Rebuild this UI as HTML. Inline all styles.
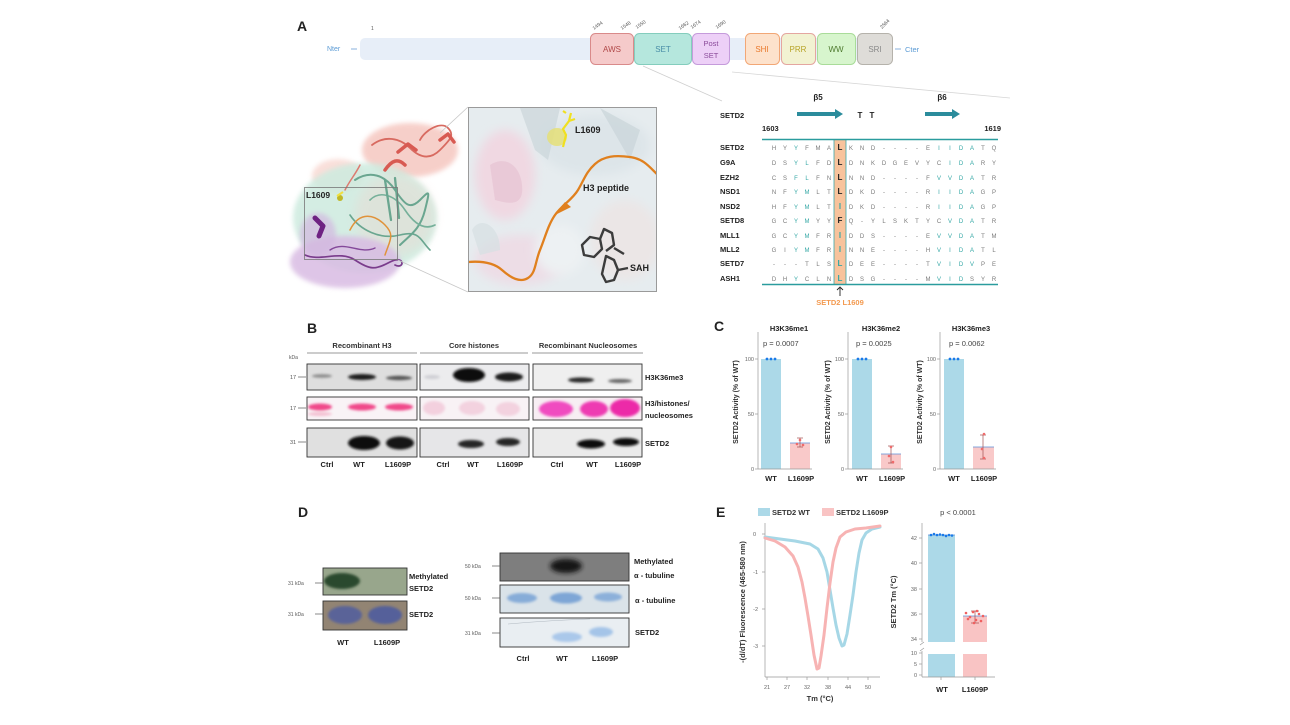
<!DOCTYPE html>
<html><head><meta charset="utf-8">
<style>
html,body{margin:0;padding:0;background:#fff;}
svg{display:block;}
text{font-family:"Liberation Sans",sans-serif;}
</style></head>
<body>
<svg width="1290" height="725" viewBox="0 0 1290 725" xmlns="http://www.w3.org/2000/svg">
<defs>
<filter id="b1" x="-50%" y="-50%" width="200%" height="200%"><feGaussianBlur stdDeviation="1.2"/></filter>
<filter id="b2" x="-50%" y="-50%" width="200%" height="200%"><feGaussianBlur stdDeviation="2.5"/></filter>
<filter id="b4" x="-50%" y="-50%" width="200%" height="200%"><feGaussianBlur stdDeviation="5"/></filter>
<clipPath id="inset"><rect x="468" y="107" width="189" height="185"/></clipPath>
</defs>
<rect width="1290" height="725" fill="#fff"/>

<!-- ================= PANEL A ================= -->
<text x="297" y="31" font-size="14" font-weight="bold" fill="#222">A</text>
<!-- domain bar -->
<rect x="360" y="38" width="510" height="22" rx="5" fill="#e7eef8"/>
<text x="327" y="51" font-size="7" fill="#5b9bd5">Nter</text>
<line x1="351" y1="49" x2="357" y2="49" stroke="#8ab0dc" stroke-width="1"/>
<text x="905" y="52" font-size="7.5" fill="#5b9bd5">Cter</text>
<line x1="895" y1="49" x2="901" y2="49" stroke="#8ab0dc" stroke-width="1"/>

<rect x="590.5" y="33.5" width="43" height="31" rx="5" fill="#f5caca" stroke="#d98a8a"/>
<rect x="634.5" y="33.5" width="57" height="31" rx="5" fill="#b5e7dd" stroke="#84cdbd"/>
<rect x="692.5" y="33.5" width="37" height="31" rx="5" fill="#edd0f7" stroke="#c59bdb"/>
<rect x="745.5" y="33.5" width="34" height="31" rx="5" fill="#fde2cc" stroke="#f2a776"/>
<rect x="781.5" y="33.5" width="34" height="31" rx="5" fill="#f2f2d2" stroke="#e4a6a0"/>
<rect x="817.5" y="33.5" width="38" height="31" rx="5" fill="#d7f5cd" stroke="#a9dc99"/>
<rect x="857.5" y="33.5" width="35" height="31" rx="5" fill="#dedcd8" stroke="#b5b2ab"/>

<text x="612" y="52" font-size="8" fill="#b04848" text-anchor="middle">AWS</text>
<text x="663" y="52" font-size="8" fill="#4a8fa8" text-anchor="middle">SET</text>
<text x="711" y="46" font-size="7.5" fill="#8a4a9a" text-anchor="middle">Post</text>
<text x="711" y="58" font-size="7.5" fill="#8a4a9a" text-anchor="middle">SET</text>
<text x="762" y="52" font-size="8" fill="#ea7a2e" text-anchor="middle">SHI</text>
<text x="798" y="52" font-size="8" fill="#b8a428" text-anchor="middle">PRR</text>
<text x="836" y="52" font-size="8" fill="#4e7a2e" text-anchor="middle">WW</text>
<text x="875" y="52" font-size="8" fill="#8a8a8a" text-anchor="middle">SRI</text>

<g font-size="5" fill="#555">
<text x="371" y="30">1</text>
<text transform="translate(594,30) rotate(-35)">1494</text>
<text transform="translate(622,30) rotate(-35)">1548</text>
<text transform="translate(637,29) rotate(-35)">1550</text>
<text transform="translate(680,30) rotate(-35)">1662</text>
<text transform="translate(692,29) rotate(-35)">1674</text>
<text transform="translate(717,29) rotate(-35)">1690</text>
<text transform="translate(882,29) rotate(-45)">2564</text>
</g>
<line x1="643" y1="66" x2="722" y2="101" stroke="#cfcfcf" stroke-width="0.8"/>
<line x1="732" y1="72" x2="1010" y2="98" stroke="#d6d6d6" stroke-width="0.8"/>

<!-- left structure -->
<g>
<ellipse cx="410" cy="150" rx="48" ry="27" fill="#f4c0b8" opacity="0.75" filter="url(#b2)"/>
<ellipse cx="338" cy="176" rx="26" ry="17" fill="#f7d2cb" opacity="0.7" filter="url(#b2)"/>
<ellipse cx="365" cy="218" rx="72" ry="55" fill="#cdebdf" opacity="0.85" filter="url(#b2)"/>
<ellipse cx="395" cy="215" rx="40" ry="40" fill="#f4cfc8" opacity="0.3" filter="url(#b4)"/>
<ellipse cx="345" cy="262" rx="55" ry="26" fill="#d9bce3" opacity="0.85" filter="url(#b2)"/>
<ellipse cx="318" cy="235" rx="18" ry="22" fill="#d3b8e0" opacity="0.7" filter="url(#b2)"/>
<!-- ribbons -->
<g fill="none" stroke-linecap="round" stroke-linejoin="round">
<path d="M372 145 C385 135,400 138,410 148 S430 160,440 150 S455 135,448 128 S425 130,420 140" stroke="#d86a60" stroke-width="1.8"/>
<path d="M385 170 C392 160,398 158,405 165 M398 152 l10 -8 l8 6" stroke="#d85a52" stroke-width="3.5"/>
<path d="M440 140 l8 -6 l6 8" stroke="#d85a52" stroke-width="3.5"/>
<path d="M360 165 C355 175,350 180,345 190" stroke="#dc7a70" stroke-width="1.5"/>
<path d="M355 180 C370 170,385 175,395 190 S410 210,420 200 S430 190,425 210 S410 235,400 245" stroke="#6aa690" stroke-width="2"/>
<path d="M370 200 C380 190,395 195,405 210 S425 230,435 225" stroke="#76b09a" stroke-width="1.6"/>
<path d="M350 215 C360 230,380 240,400 235 S420 240,430 250" stroke="#6aa690" stroke-width="1.6"/>
<path d="M385 180 l6 40 M395 178 l4 40" stroke="#6aa690" stroke-width="2.3"/>
<path d="M350 230 C360 210,375 215,385 225 S390 240,385 255" stroke="#e0923a" stroke-width="1.5"/>
<path d="M305 255 C320 262,340 250,355 260 S375 270,390 262 S405 270,395 265" stroke="#7a3c8c" stroke-width="1.7"/>
<path d="M315 218 l8 8 l-4 10" stroke="#6e2282" stroke-width="5"/>
<path d="M330 250 C345 240,360 255,375 248" stroke="#84489a" stroke-width="1.4"/>
</g>
<circle cx="340" cy="198" r="3" fill="#c0b828"/>
<path d="M337 196 l6 -4" stroke="#f0e040" stroke-width="2"/>
<rect x="304.5" y="187.5" width="93" height="72" fill="none" stroke="#777" stroke-width="0.8"/>
<text x="306" y="198" font-size="8.5" font-weight="bold" fill="#222">L1609</text>
<line x1="398" y1="260" x2="468" y2="292" stroke="#c8c8c8" stroke-width="0.8"/>
<line x1="440" y1="133" x2="468" y2="107" stroke="#c8c8c8" stroke-width="0.8"/>
</g>

<!-- inset -->
<g clip-path="url(#inset)">
<rect x="468" y="107" width="189" height="185" fill="#e6ecef"/>
<ellipse cx="505" cy="175" rx="30" ry="45" fill="#f0d8e2" filter="url(#b4)"/>
<ellipse cx="520" cy="260" rx="45" ry="25" fill="#eddde6" filter="url(#b4)"/>
<ellipse cx="595" cy="145" rx="55" ry="30" fill="#dde5e9" filter="url(#b4)"/>
<ellipse cx="625" cy="240" rx="35" ry="40" fill="#ebe6e6" filter="url(#b4)"/>
<ellipse cx="560" cy="250" rx="25" ry="25" fill="#edf1f3" filter="url(#b4)"/>
<path d="M520 108 L560 108 L548 160 L535 150 Z" fill="#cbd6da" opacity="0.7"/>
<path d="M600 108 L640 130 L630 160 L610 125 Z" fill="#c9d4d8" opacity="0.7"/>
<path d="M490 165 C505 155,520 165,522 185 S512 205,495 200 Z" fill="#e8c8d6" opacity="0.9"/>
<path d="M472 230 C480 215,500 225,500 250 L480 255 Z" fill="#d6dfe2" opacity="0.7"/>
<ellipse cx="557" cy="137" rx="10" ry="9" fill="#e6e070" opacity="0.8"/>
<path d="M563 147 l3 -12 l-3 -6 l6 -8 l2 -8 M569 121 l6 -2 M566 113 l-3 -2" stroke="#f0e020" stroke-width="2.2" fill="none"/>
<path d="M468 262 C480 261,493 262,502 270 S520 283,528 278 S535 262,540 250 S548 225,555 215 S572 200,578 190 S586 172,595 164 S615 155,630 157 S650 168,660 177" stroke="#e0801e" stroke-width="2.3" fill="none"/>
<path d="M553 216 l12 -14 l6 5 Z" fill="#e0801e"/>
<g stroke="#3c3c3c" stroke-width="2.4" fill="none" stroke-linejoin="round">
<path d="M582 245 l8 -8 l10 2 l2 10 l-8 8 l-10 -2 Z"/>
<path d="M600 239 l4 -10 l8 4 l2 12 l-8 6"/>
<path d="M606 256 l8 4 l4 10 l-4 10 l-8 2 l-4 -8 Z"/>
<path d="M614 248 l10 6 M618 270 l10 -2"/>
</g>
</g>
<rect x="468.5" y="107.5" width="188" height="184" fill="none" stroke="#9a9a9a" stroke-width="1"/>
<text x="575" y="133" font-size="9" font-weight="bold" fill="#222">L1609</text>
<text x="583" y="191" font-size="9" font-weight="bold" fill="#222">H3 peptide</text>
<text x="630" y="271" font-size="9" font-weight="bold" fill="#222">SAH</text>

<!-- alignment -->
<text x="720" y="118" font-size="7.5" font-weight="bold" fill="#222">SETD2</text>
<text x="818" y="100" font-size="8" font-weight="bold" fill="#222" text-anchor="middle">β5</text>
<text x="942" y="100" font-size="8" font-weight="bold" fill="#222" text-anchor="middle">β6</text>
<path d="M797 112 L835 112 L835 109 L843 114 L835 119 L835 116 L797 116 Z" fill="#2b8c9c"/>
<path d="M925 112 L952 112 L952 109 L960 114 L952 119 L952 116 L925 116 Z" fill="#2b8c9c"/>
<text x="860" y="118" font-size="8" font-weight="bold" fill="#222" text-anchor="middle">T</text>
<text x="872" y="118" font-size="8" font-weight="bold" fill="#222" text-anchor="middle">T</text>
<text x="762" y="131" font-size="7.5" font-weight="bold" fill="#222">1603</text>
<text x="1001" y="131" font-size="7.5" font-weight="bold" fill="#222" text-anchor="end">1619</text>
<rect x="834" y="139" width="12" height="145" fill="#f8c39c"/>
<line x1="834" y1="139" x2="834" y2="284" stroke="#3aa8aa" stroke-width="0.8"/>
<line x1="846" y1="139" x2="846" y2="284" stroke="#3aa8aa" stroke-width="0.8"/>
<line x1="762" y1="139.5" x2="998" y2="139.5" stroke="#2a9c9e" stroke-width="1.6"/>
<line x1="762" y1="284.5" x2="998" y2="284.5" stroke="#2a9c9e" stroke-width="1.6"/>

<g font-size="7.5" font-weight="bold" fill="#222">
<text x="720" y="150">SETD2</text>
<text x="720" y="165">G9A</text>
<text x="720" y="180">EZH2</text>
<text x="720" y="194">NSD1</text>
<text x="720" y="209">NSD2</text>
<text x="720" y="223">SETD8</text>
<text x="720" y="238">MLL1</text>
<text x="720" y="252">MLL2</text>
<text x="720" y="266">SETD7</text>
<text x="720" y="281">ASH1</text>
</g>
<g font-size="6" fill="#7a7a7a" text-anchor="middle">
<text y="150" x="774 785 796 807 818 829 840 851 862 873 884 895 906 917 928 939 950 961 972 983 994">HY<tspan fill="#36a8a6">Y</tspan>FMA<tspan fill="#222" font-weight="bold" font-size="8">L</tspan>KND----E<tspan fill="#36a8a6">IIDA</tspan>TQ</text>
<text y="165" x="774 785 796 807 818 829 840 851 862 873 884 895 906 917 928 939 950 961 972 983 994">DS<tspan fill="#36a8a6">YL</tspan>FD<tspan fill="#222" font-weight="bold" font-size="8">L</tspan>DNKDGEVYC<tspan fill="#36a8a6">IDA</tspan>RY</text>
<text y="180" x="774 785 796 807 818 829 840 851 862 873 884 895 906 917 928 939 950 961 972 983 994">CS<tspan fill="#36a8a6">FL</tspan>FN<tspan fill="#222" font-weight="bold" font-size="8">L</tspan>NND----F<tspan fill="#36a8a6">VVDA</tspan>TR</text>
<text y="194" x="774 785 796 807 818 829 840 851 862 873 884 895 906 917 928 939 950 961 972 983 994">NF<tspan fill="#36a8a6">YM</tspan>LT<tspan fill="#222" font-weight="bold" font-size="8">L</tspan>DKD----R<tspan fill="#36a8a6">IIDA</tspan>GP</text>
<text y="209" x="774 785 796 807 818 829 840 851 862 873 884 895 906 917 928 939 950 961 972 983 994">HF<tspan fill="#36a8a6">YM</tspan>LT<tspan fill="#36a8a6" font-weight="bold" font-size="8">I</tspan>DKD----R<tspan fill="#36a8a6">IIDA</tspan>GP</text>
<text y="223" x="774 785 796 807 818 829 840 851 862 873 884 895 906 917 928 939 950 961 972 983 994">GC<tspan fill="#36a8a6">YM</tspan>YY<tspan fill="#222" font-weight="bold" font-size="8">F</tspan>Q-YLSKTYC<tspan fill="#36a8a6">VDA</tspan>TR</text>
<text y="238" x="774 785 796 807 818 829 840 851 862 873 884 895 906 917 928 939 950 961 972 983 994">GC<tspan fill="#36a8a6">YM</tspan>FR<tspan fill="#36a8a6" font-weight="bold" font-size="8">I</tspan>DDS----E<tspan fill="#36a8a6">VVDA</tspan>TM</text>
<text y="252" x="774 785 796 807 818 829 840 851 862 873 884 895 906 917 928 939 950 961 972 983 994">GI<tspan fill="#36a8a6">YM</tspan>FR<tspan fill="#36a8a6" font-weight="bold" font-size="8">I</tspan>NNE----H<tspan fill="#36a8a6">VIDA</tspan>TL</text>
<text y="266" x="774 785 796 807 818 829 840 851 862 873 884 895 906 917 928 939 950 961 972 983 994">---TLS<tspan fill="#36a8a6" font-weight="bold" font-size="8">L</tspan>DEE----T<tspan fill="#36a8a6">VIDV</tspan>PE</text>
<text y="281" x="774 785 796 807 818 829 840 851 862 873 884 895 906 917 928 939 950 961 972 983 994">DH<tspan fill="#36a8a6">Y</tspan>CLN<tspan fill="#36a8a6" font-weight="bold" font-size="8">L</tspan>DSG----M<tspan fill="#36a8a6">VID</tspan>SYR</text>
</g>
<path d="M840 296 L840 288 M837 290 L840 287 L843 290" stroke="#222" stroke-width="0.9" fill="none"/>
<text x="840" y="305" font-size="7.5" font-weight="bold" fill="#f39a50" text-anchor="middle">SETD2 L1609</text>

<!-- ================= PANEL B ================= -->
<text x="307" y="333" font-size="14" font-weight="bold" fill="#222">B</text>
<g font-size="7.5" font-weight="bold" fill="#333" text-anchor="middle">
<text x="362" y="348">Recombinant H3</text>
<text x="474" y="348">Core histones</text>
<text x="588" y="348">Recombinant Nucleosomes</text>
</g>
<g stroke="#777" stroke-width="0.8">
<line x1="307" y1="353" x2="417" y2="353"/>
<line x1="420" y1="353" x2="528" y2="353"/>
<line x1="532" y1="353" x2="643" y2="353"/>
</g>
<text x="289" y="359" font-size="5" fill="#555">kDa</text>
<g font-size="5.5" fill="#555">
<text x="290" y="379">17</text><line x1="298" y1="377" x2="306" y2="377" stroke="#555" stroke-width="0.7"/>
<text x="290" y="410">17</text><line x1="298" y1="408" x2="306" y2="408" stroke="#555" stroke-width="0.7"/>
<text x="290" y="444">31</text><line x1="298" y1="442" x2="306" y2="442" stroke="#555" stroke-width="0.7"/>
</g>
<!-- row1 -->
<rect x="307" y="364" width="110" height="26" fill="#dedede"/>
<rect x="420" y="364" width="109" height="26" fill="#ececee"/>
<rect x="533" y="364" width="109" height="26" fill="#efefef"/>
<g filter="url(#b1)">
<ellipse cx="322" cy="376" rx="10" ry="1.8" fill="#8a8a8a"/>
<ellipse cx="362" cy="377" rx="14" ry="3" fill="#1c1c1c"/>
<ellipse cx="399" cy="378" rx="13" ry="2.2" fill="#555"/>
<ellipse cx="432" cy="377" rx="8" ry="2" fill="#cfcfd4"/>
<ellipse cx="469" cy="375" rx="16" ry="7" fill="#0c0c0c"/>
<ellipse cx="509" cy="377" rx="14" ry="4.5" fill="#1a1a1a"/>
<ellipse cx="581" cy="380" rx="13" ry="2.6" fill="#2a2a2a"/>
<ellipse cx="620" cy="381" rx="12" ry="2" fill="#666"/>
</g>
<!-- row2 -->
<rect x="307" y="397" width="110" height="23" fill="#f9f3f6"/>
<rect x="420" y="397" width="109" height="23" fill="#f8f2f5"/>
<rect x="533" y="397" width="109" height="23" fill="#f7eef3"/>
<g filter="url(#b1)">
<ellipse cx="320" cy="407" rx="12" ry="3.5" fill="#f0488a"/>
<ellipse cx="362" cy="407" rx="14" ry="3.5" fill="#f0488a"/>
<ellipse cx="399" cy="407" rx="14" ry="3.5" fill="#f0488a"/>
<ellipse cx="320" cy="414" rx="12" ry="2" fill="#f4c0d2"/>
<ellipse cx="434" cy="408" rx="11" ry="7" fill="#f3d0de"/>
<ellipse cx="472" cy="408" rx="13" ry="7" fill="#f3d2df"/>
<ellipse cx="508" cy="409" rx="12" ry="7" fill="#f3d2df"/>
<ellipse cx="556" cy="409" rx="17" ry="8" fill="#f04cc0"/>
<ellipse cx="594" cy="409" rx="14" ry="8" fill="#ee3ab2"/>
<ellipse cx="625" cy="408" rx="15" ry="9" fill="#ec2ca8"/>
</g>
<!-- row3 -->
<rect x="307" y="428" width="110" height="29" fill="#e0e0e0"/>
<rect x="420" y="428" width="109" height="29" fill="#e6e6e8"/>
<rect x="533" y="428" width="109" height="29" fill="#ebebeb"/>
<g filter="url(#b1)">
<ellipse cx="364" cy="443" rx="16" ry="7" fill="#0c0c0c"/>
<ellipse cx="400" cy="443" rx="14" ry="6.5" fill="#141414"/>
<ellipse cx="471" cy="444" rx="13" ry="4" fill="#262626"/>
<ellipse cx="508" cy="442" rx="12" ry="4" fill="#262626"/>
<ellipse cx="591" cy="444" rx="14" ry="4.5" fill="#0c0c0c"/>
<ellipse cx="626" cy="442" rx="13" ry="4" fill="#0c0c0c"/>
</g>
<g fill="none" stroke="#333" stroke-width="0.9">
<rect x="307" y="364" width="110" height="26"/><rect x="420" y="364" width="109" height="26"/><rect x="533" y="364" width="109" height="26"/>
<rect x="307" y="397" width="110" height="23"/><rect x="420" y="397" width="109" height="23"/><rect x="533" y="397" width="109" height="23"/>
<rect x="307" y="428" width="110" height="29"/><rect x="420" y="428" width="109" height="29"/><rect x="533" y="428" width="109" height="29"/>
</g>
<g font-size="7.5" font-weight="bold" fill="#222">
<text x="645" y="380">H3K36me3</text>
<text x="645" y="406">H3/histones/</text>
<text x="645" y="418">nucleosomes</text>
<text x="645" y="446">SETD2</text>
</g>
<g font-size="7.5" font-weight="bold" fill="#222" text-anchor="middle">
<text x="327" y="467">Ctrl</text><text x="359" y="467">WT</text><text x="398" y="467">L1609P</text>
<text x="443" y="467">Ctrl</text><text x="473" y="467">WT</text><text x="510" y="467">L1609P</text>
<text x="557" y="467">Ctrl</text><text x="592" y="467">WT</text><text x="628" y="467">L1609P</text>
</g>

<!-- ================= PANEL C ================= -->
<text x="714" y="331" font-size="14" font-weight="bold" fill="#222">C</text>
<g font-size="7.5" font-weight="bold" fill="#222" text-anchor="middle">
<text x="789" y="331">H3K36me1</text>
<text x="881" y="331">H3K36me2</text>
<text x="971" y="331">H3K36me3</text>
</g>
<g font-size="7.5" fill="#444">
<text x="763" y="346">p = 0.0007</text>
<text x="856" y="346">p = 0.0025</text>
<text x="949" y="346">p = 0.0062</text>
</g>
<g font-size="7" font-weight="bold" fill="#333" text-anchor="middle">
<text transform="translate(738,402) rotate(-90)">SETD2 Activity (% of WT)</text>
<text transform="translate(830,402) rotate(-90)">SETD2 Activity (% of WT)</text>
<text transform="translate(922,402) rotate(-90)">SETD2 Activity (% of WT)</text>
</g>
<!-- chart1 -->
<g>
<rect x="761" y="359" width="20" height="110" fill="#acd9e8"/>
<rect x="790" y="443" width="20" height="26" fill="#f9c9c9"/>
<line x1="790" y1="443" x2="810" y2="443" stroke="#5b8fd8" stroke-width="0.8"/>
<line x1="800" y1="438" x2="800" y2="447" stroke="#a05050" stroke-width="0.7"/>
<line x1="797" y1="438" x2="803" y2="438" stroke="#a05050" stroke-width="0.7"/>
<line x1="797" y1="447" x2="803" y2="447" stroke="#a05050" stroke-width="0.7"/>
<circle cx="800" cy="440" r="1.3" fill="#f06a6a"/><circle cx="797" cy="444" r="1.3" fill="#f06a6a"/><circle cx="803" cy="445" r="1.3" fill="#f06a6a"/>
<circle cx="767" cy="359" r="1.4" fill="#1a7ae8"/><circle cx="771" cy="359" r="1.4" fill="#1a7ae8"/><circle cx="775" cy="359" r="1.4" fill="#1a7ae8"/>
</g>
<!-- chart2 -->
<g>
<rect x="852" y="359" width="20" height="110" fill="#acd9e8"/>
<rect x="881" y="454" width="20" height="15" fill="#f9c9c9"/>
<line x1="881" y1="454" x2="901" y2="454" stroke="#5b8fd8" stroke-width="0.8"/>
<line x1="891" y1="446" x2="891" y2="463" stroke="#a05050" stroke-width="0.7"/>
<line x1="888" y1="446" x2="894" y2="446" stroke="#a05050" stroke-width="0.7"/>
<line x1="888" y1="463" x2="894" y2="463" stroke="#a05050" stroke-width="0.7"/>
<circle cx="891" cy="447" r="1.3" fill="#f06a6a"/><circle cx="889" cy="456" r="1.3" fill="#f06a6a"/><circle cx="893" cy="462" r="1.3" fill="#f06a6a"/>
<circle cx="858" cy="359" r="1.4" fill="#1a7ae8"/><circle cx="862" cy="359" r="1.4" fill="#1a7ae8"/><circle cx="866" cy="359" r="1.4" fill="#1a7ae8"/>
</g>
<!-- chart3 -->
<g>
<rect x="944" y="359" width="20" height="110" fill="#acd9e8"/>
<rect x="973" y="447" width="21" height="22" fill="#f9c9c9"/>
<line x1="973" y1="447" x2="994" y2="447" stroke="#5b8fd8" stroke-width="0.8"/>
<line x1="983" y1="435" x2="983" y2="459" stroke="#a05050" stroke-width="0.7"/>
<line x1="980" y1="435" x2="986" y2="435" stroke="#a05050" stroke-width="0.7"/>
<line x1="980" y1="459" x2="986" y2="459" stroke="#a05050" stroke-width="0.7"/>
<circle cx="984" cy="434" r="1.3" fill="#f06a6a"/><circle cx="982" cy="449" r="1.3" fill="#f06a6a"/><circle cx="984" cy="458" r="1.3" fill="#f06a6a"/>
<circle cx="950" cy="359" r="1.4" fill="#1a7ae8"/><circle cx="954" cy="359" r="1.4" fill="#1a7ae8"/><circle cx="958" cy="359" r="1.4" fill="#1a7ae8"/>
</g>
<g stroke="#999" stroke-width="0.7">
<line x1="758" y1="332" x2="758" y2="469"/><line x1="758" y1="469" x2="812" y2="469"/>
<line x1="755" y1="359" x2="758" y2="359"/><line x1="755" y1="414" x2="758" y2="414"/><line x1="755" y1="469" x2="758" y2="469"/>
<line x1="848" y1="332" x2="848" y2="469"/><line x1="848" y1="469" x2="903" y2="469"/>
<line x1="845" y1="359" x2="848" y2="359"/><line x1="845" y1="414" x2="848" y2="414"/><line x1="845" y1="469" x2="848" y2="469"/>
<line x1="940" y1="332" x2="940" y2="469"/><line x1="940" y1="469" x2="996" y2="469"/>
<line x1="937" y1="359" x2="940" y2="359"/><line x1="937" y1="414" x2="940" y2="414"/><line x1="937" y1="469" x2="940" y2="469"/>
</g>
<g font-size="5.5" fill="#666" text-anchor="end">
<text x="754" y="361">100</text><text x="754" y="416">50</text><text x="754" y="471">0</text>
<text x="844" y="361">100</text><text x="844" y="416">50</text><text x="844" y="471">0</text>
<text x="936" y="361">100</text><text x="936" y="416">50</text><text x="936" y="471">0</text>
</g>
<g font-size="7.5" font-weight="bold" fill="#222" text-anchor="middle">
<text x="771" y="481">WT</text><text x="801" y="481">L1609P</text>
<text x="862" y="481">WT</text><text x="892" y="481">L1609P</text>
<text x="954" y="481">WT</text><text x="984" y="481">L1609P</text>
</g>

<!-- ================= PANEL D ================= -->
<text x="298" y="517" font-size="14" font-weight="bold" fill="#222">D</text>
<!-- left blot -->
<rect x="323" y="568" width="84" height="27" fill="#98a68c"/>
<ellipse cx="342" cy="581" rx="18" ry="8" fill="#2c4a2e" filter="url(#b1)"/>
<rect x="323" y="601" width="84" height="29" fill="#928473"/>
<g filter="url(#b1)">
<ellipse cx="345" cy="615" rx="17" ry="9" fill="#5a6498"/>
<ellipse cx="385" cy="615" rx="17" ry="9" fill="#55609a"/>
</g>
<rect x="323" y="568" width="84" height="27" fill="none" stroke="#333" stroke-width="0.9"/>
<rect x="323" y="601" width="84" height="29" fill="none" stroke="#333" stroke-width="0.9"/>
<g font-size="5" fill="#555">
<text x="288" y="585">31 kDa</text><line x1="315" y1="583" x2="323" y2="583" stroke="#555" stroke-width="0.7"/>
<text x="288" y="616">31 kDa</text><line x1="315" y1="614" x2="323" y2="614" stroke="#555" stroke-width="0.7"/>
</g>
<g font-size="7.5" font-weight="bold" fill="#222">
<text x="409" y="579">Methylated</text>
<text x="409" y="591">SETD2</text>
<text x="409" y="617">SETD2</text>
</g>
<g font-size="7.5" font-weight="bold" fill="#222" text-anchor="middle">
<text x="343" y="645">WT</text><text x="387" y="645">L1609P</text>
</g>
<!-- right blot -->
<rect x="500" y="553" width="129" height="28" fill="#7e7e7e"/>
<ellipse cx="566" cy="566" rx="16" ry="7" fill="#141414" filter="url(#b2)"/>
<rect x="500" y="585" width="129" height="28" fill="#dae3e9"/>
<g filter="url(#b1)">
<ellipse cx="522" cy="598" rx="15" ry="5" fill="#86acd8"/>
<ellipse cx="566" cy="598" rx="16" ry="5.5" fill="#7ea6d6"/>
<ellipse cx="608" cy="597" rx="14" ry="4.5" fill="#8cb0da"/>
</g>
<rect x="500" y="618" width="129" height="29" fill="#e9eef2"/>
<g filter="url(#b1)">
<ellipse cx="567" cy="637" rx="15" ry="5" fill="#aac8ea"/>
<ellipse cx="601" cy="632" rx="12" ry="5" fill="#a4c4e8"/>
</g>
<path d="M508 624 C530 622,560 620,590 619" stroke="#b0b8c0" stroke-width="0.6" fill="none"/>
<rect x="500" y="553" width="129" height="28" fill="none" stroke="#333" stroke-width="0.9"/>
<rect x="500" y="585" width="129" height="28" fill="none" stroke="#333" stroke-width="0.9"/>
<rect x="500" y="618" width="129" height="29" fill="none" stroke="#333" stroke-width="0.9"/>
<g font-size="5" fill="#555">
<text x="465" y="568">50 kDa</text><line x1="492" y1="566" x2="500" y2="566" stroke="#555" stroke-width="0.7"/>
<text x="465" y="600">50 kDa</text><line x1="492" y1="598" x2="500" y2="598" stroke="#555" stroke-width="0.7"/>
<text x="465" y="635">31 kDa</text><line x1="492" y1="633" x2="500" y2="633" stroke="#555" stroke-width="0.7"/>
</g>
<g font-size="7.5" font-weight="bold" fill="#222">
<text x="634" y="564">Methylated</text>
<text x="634" y="578">α - tubuline</text>
<text x="635" y="603">α - tubuline</text>
<text x="635" y="635">SETD2</text>
</g>
<g font-size="7.5" font-weight="bold" fill="#222" text-anchor="middle">
<text x="523" y="661">Ctrl</text><text x="562" y="661">WT</text><text x="605" y="661">L1609P</text>
</g>

<!-- ================= PANEL E ================= -->
<text x="716" y="517" font-size="14" font-weight="bold" fill="#222">E</text>
<rect x="758" y="508" width="12" height="8" fill="#acd9e8"/>
<text x="772" y="515" font-size="7.5" font-weight="bold" fill="#333">SETD2 WT</text>
<rect x="822" y="508" width="12" height="8" fill="#f9c4c4"/>
<text x="836" y="515" font-size="7.5" font-weight="bold" fill="#333">SETD2 L1609P</text>
<!-- axes -->
<g stroke="#999" stroke-width="0.7">
<line x1="765" y1="523" x2="765" y2="677"/>
<line x1="765" y1="677" x2="880" y2="677"/>
<line x1="762" y1="534" x2="765" y2="534"/><line x1="762" y1="572" x2="765" y2="572"/><line x1="762" y1="609" x2="765" y2="609"/><line x1="762" y1="646" x2="765" y2="646"/>
<line x1="767" y1="677" x2="767" y2="680"/><line x1="787" y1="677" x2="787" y2="680"/><line x1="807" y1="677" x2="807" y2="680"/><line x1="828" y1="677" x2="828" y2="680"/><line x1="848" y1="677" x2="848" y2="680"/><line x1="868" y1="677" x2="868" y2="680"/>
</g>
<g font-size="5.5" fill="#666" text-anchor="end">
<text x="756" y="536">0</text><text x="758" y="574">-1</text><text x="758" y="611">-2</text><text x="758" y="648">-3</text>
</g>
<g font-size="5.5" fill="#666" text-anchor="middle">
<text x="767" y="689">21</text><text x="787" y="689">27</text><text x="807" y="689">32</text><text x="828" y="689">38</text><text x="848" y="689">44</text><text x="868" y="689">50</text>
</g>
<text x="820" y="701" font-size="7.5" font-weight="bold" fill="#333" text-anchor="middle">Tm (°C)</text>
<text transform="translate(745,602) rotate(-90)" font-size="7.5" font-weight="bold" fill="#333" text-anchor="middle">-(d/dT) Fluorescence (465-580 nm)</text>
<polyline points="765,537 780,539 795,541 810,544 818,549 823,558 827,572 830,590 833,608 836,625 839,638 842,646 844,645 847,634 850,615 853,595 856,572 859,553 862,540 866,533 872,529 880,527" fill="none" stroke="#a6d7e6" stroke-width="3" stroke-linejoin="round" stroke-linecap="round"/>
<polyline points="765,538 775,541 785,547 793,556 798,567 802,582 805,598 808,616 811,635 814,655 817,669 819,668 821,656 824,635 827,608 830,583 833,562 836,548 840,537 846,532 855,529 866,528 880,526" fill="none" stroke="#f7b3b3" stroke-width="3" stroke-linejoin="round" stroke-linecap="round"/>

<!-- Tm bars -->
<text x="958" y="515" font-size="7.5" fill="#444" text-anchor="middle">p &lt; 0.0001</text>
<rect x="928" y="535" width="27" height="107" fill="#acd9e8"/>
<rect x="928" y="654" width="27" height="23" fill="#acd9e8"/>
<rect x="963" y="616" width="24" height="26" fill="#f9c4c4"/>
<rect x="963" y="654" width="24" height="23" fill="#f9c4c4"/>
<line x1="963" y1="616" x2="987" y2="616" stroke="#5b8fd8" stroke-width="0.8"/>
<line x1="928" y1="535" x2="955" y2="535" stroke="#5b8fd8" stroke-width="0.8"/>
<g fill="#1a7ae8">
<circle cx="931" cy="535" r="1.3"/><circle cx="934" cy="534" r="1.3"/><circle cx="937" cy="535" r="1.3"/><circle cx="940" cy="534.5" r="1.3"/><circle cx="943" cy="535" r="1.3"/><circle cx="946" cy="536" r="1.3"/><circle cx="949" cy="535" r="1.3"/><circle cx="952" cy="535.5" r="1.3"/>
</g>
<line x1="975" y1="611" x2="975" y2="623" stroke="#a05050" stroke-width="0.7"/>
<line x1="971" y1="611" x2="979" y2="611" stroke="#a05050" stroke-width="0.7"/>
<line x1="971" y1="623" x2="979" y2="623" stroke="#a05050" stroke-width="0.7"/>
<g fill="#f06060">
<circle cx="966" cy="613" r="1.3"/><circle cx="970" cy="617" r="1.3"/><circle cx="973" cy="612" r="1.3"/><circle cx="976" cy="620" r="1.3"/><circle cx="979" cy="614" r="1.3"/><circle cx="983" cy="616" r="1.3"/><circle cx="968" cy="619" r="1.3"/><circle cx="974" cy="623" r="1.3"/><circle cx="981" cy="621" r="1.3"/><circle cx="977" cy="611" r="1.3"/>
</g>
<g stroke="#999" stroke-width="0.7" fill="none">
<line x1="922" y1="523" x2="922" y2="642"/>
<path d="M920 645 l4 -3 M920 651 l4 -3"/>
<line x1="922" y1="651" x2="922" y2="677"/>
<line x1="922" y1="677" x2="995" y2="677"/>
<line x1="919" y1="538" x2="922" y2="538"/><line x1="919" y1="563" x2="922" y2="563"/><line x1="919" y1="589" x2="922" y2="589"/><line x1="919" y1="614" x2="922" y2="614"/><line x1="919" y1="639" x2="922" y2="639"/>
<line x1="919" y1="653" x2="922" y2="653"/><line x1="919" y1="664" x2="922" y2="664"/><line x1="919" y1="675" x2="922" y2="675"/>
<line x1="941" y1="677" x2="941" y2="680"/><line x1="975" y1="677" x2="975" y2="680"/>
</g>
<g font-size="5.5" fill="#666" text-anchor="end">
<text x="917" y="540">42</text><text x="917" y="565">40</text><text x="917" y="591">38</text><text x="917" y="616">36</text><text x="917" y="641">34</text>
<text x="917" y="655">10</text><text x="917" y="666">5</text><text x="917" y="677">0</text>
</g>
<text transform="translate(896,602) rotate(-90)" font-size="7.5" font-weight="bold" fill="#333" text-anchor="middle">SETD2 Tm (°C)</text>
<g font-size="7.5" font-weight="bold" fill="#222" text-anchor="middle">
<text x="942" y="692">WT</text><text x="975" y="692">L1609P</text>
</g>
</svg>
</body></html>
